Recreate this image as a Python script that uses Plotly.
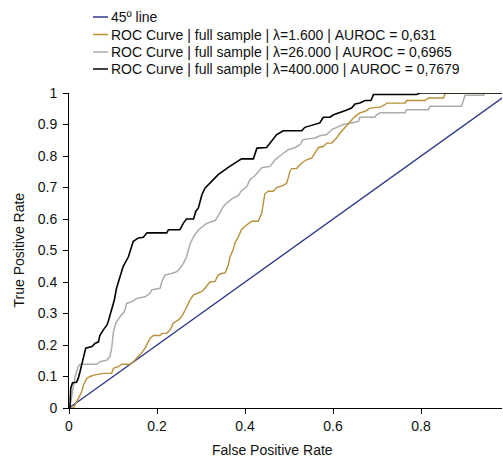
import plotly.graph_objects as go

# ROC curve points (false positive rate, true positive rate)
fpr_lam400 = [0, 0.002, 0.004, 0.008, 0.017, 0.021, 0.025, 0.033, 0.038, 0.052,
              0.059, 0.067, 0.070, 0.078, 0.086, 0.089, 0.097, 0.103, 0.108, 0.116,
              0.123, 0.135, 0.142, 0.146, 0.158, 0.169, 0.177, 0.222, 0.226, 0.252,
              0.260, 0.267, 0.283, 0.288, 0.294, 0.302, 0.309, 0.324, 0.339, 0.362,
              0.385, 0.392, 0.419, 0.427, 0.449, 0.464, 0.472, 0.487, 0.529, 0.536,
              0.552, 0.570, 0.578, 0.593, 0.601, 0.616, 0.627, 0.642, 0.650, 0.661,
              0.673, 0.686, 0.692, 0.790, 0.798, 1.0]
tpr_lam400 = [0, 0, 0.063, 0.080, 0.082, 0.094, 0.115, 0.168, 0.190, 0.195,
              0.205, 0.210, 0.230, 0.248, 0.263, 0.274, 0.311, 0.343, 0.380, 0.417,
              0.449, 0.480, 0.507, 0.529, 0.540, 0.542, 0.556, 0.556, 0.566, 0.566,
              0.587, 0.600, 0.600, 0.624, 0.635, 0.677, 0.698, 0.720, 0.741, 0.764,
              0.783, 0.791, 0.791, 0.825, 0.827, 0.852, 0.868, 0.880, 0.880, 0.891,
              0.897, 0.905, 0.923, 0.923, 0.931, 0.940, 0.944, 0.952, 0.965, 0.968,
              0.976, 0.976, 0.995, 0.995, 1.0, 1.0]

fpr_lam26 = [0, 0.002, 0.008, 0.014, 0.021, 0.025, 0.063, 0.070, 0.086, 0.093,
             0.097, 0.101, 0.106, 0.116, 0.126, 0.131, 0.142, 0.154, 0.173, 0.184,
             0.188, 0.207, 0.211, 0.218, 0.233, 0.245, 0.252, 0.260, 0.267, 0.275,
             0.283, 0.294, 0.313, 0.332, 0.339, 0.351, 0.358, 0.370, 0.385, 0.392,
             0.404, 0.411, 0.423, 0.438, 0.457, 0.468, 0.483, 0.498, 0.514, 0.525,
             0.532, 0.559, 0.570, 0.586, 0.597, 0.612, 0.623, 0.639, 0.658, 0.661,
             0.695, 0.699, 0.707, 0.764, 0.767, 0.817, 0.820, 0.892, 0.896, 0.900,
             0.942, 0.944, 1.0]
tpr_lam26 = [0, 0, 0.052, 0.100, 0.131, 0.139, 0.139, 0.147, 0.152, 0.163,
             0.190, 0.242, 0.269, 0.290, 0.306, 0.332, 0.337, 0.348, 0.353, 0.364,
             0.375, 0.380, 0.401, 0.422, 0.427, 0.433, 0.443, 0.459, 0.480, 0.520,
             0.544, 0.565, 0.586, 0.595, 0.610, 0.640, 0.650, 0.664, 0.675, 0.690,
             0.703, 0.725, 0.738, 0.763, 0.767, 0.788, 0.804, 0.820, 0.827, 0.836,
             0.852, 0.857, 0.864, 0.868, 0.884, 0.894, 0.900, 0.904, 0.910, 0.923,
             0.923, 0.931, 0.937, 0.937, 0.947, 0.947, 0.958, 0.958, 0.979, 0.993,
             0.993, 1.0, 1.0]

fpr_lam1_6 = [0, 0.010, 0.014, 0.021, 0.029, 0.033, 0.040, 0.048, 0.059, 0.078,
              0.097, 0.101, 0.112, 0.120, 0.139, 0.146, 0.161, 0.173, 0.184, 0.192,
              0.207, 0.211, 0.222, 0.230, 0.237, 0.248, 0.256, 0.264, 0.275, 0.283,
              0.294, 0.302, 0.309, 0.320, 0.332, 0.339, 0.347, 0.355, 0.362, 0.366,
              0.373, 0.377, 0.385, 0.392, 0.400, 0.415, 0.430, 0.438, 0.445, 0.453,
              0.464, 0.472, 0.487, 0.495, 0.502, 0.506, 0.517, 0.529, 0.540, 0.552,
              0.559, 0.567, 0.578, 0.586, 0.597, 0.608, 0.616, 0.627, 0.639, 0.650,
              0.661, 0.673, 0.684, 0.707, 0.718, 0.722, 0.764, 0.767, 0.809, 0.817,
              0.851, 0.853, 0.855, 1.0]
tpr_lam1_6 = [0, 0, 0.010, 0.031, 0.052, 0.073, 0.094, 0.100, 0.105, 0.110,
              0.110, 0.126, 0.131, 0.139, 0.139, 0.147, 0.168, 0.190, 0.221, 0.230,
              0.230, 0.237, 0.237, 0.248, 0.269, 0.279, 0.290, 0.311, 0.343, 0.359,
              0.364, 0.370, 0.380, 0.400, 0.402, 0.422, 0.427, 0.429, 0.454, 0.480,
              0.502, 0.523, 0.544, 0.567, 0.577, 0.593, 0.593, 0.618, 0.680, 0.688,
              0.688, 0.700, 0.707, 0.714, 0.751, 0.760, 0.760, 0.778, 0.788, 0.794,
              0.810, 0.827, 0.830, 0.841, 0.841, 0.857, 0.873, 0.890, 0.910, 0.926,
              0.937, 0.942, 0.952, 0.955, 0.963, 0.968, 0.968, 0.976, 0.976, 0.984,
              0.984, 0.997, 1.0, 1.0]

diag_x = [0, 1]
diag_y = [0, 1]

series_names = [
    "45º line",
    "ROC Curve | full sample | λ=1.600 | AUROC = 0,631",
    "ROC Curve | full sample | λ=26.000 | AUROC = 0,6965",
    "ROC Curve | full sample | λ=400.000 | AUROC = 0,7679",
]
series_colors = ["#2E3A87", "#B8903A", "#ABABAB", "#000000"]

x_ticks = [0, 0.2, 0.4, 0.6, 0.8]
x_ticklabels = ["0", "0.2", "0.4", "0.6", "0.8"]
y_ticks = [0, 0.1, 0.2, 0.3, 0.4, 0.5, 0.6, 0.7, 0.8, 0.9, 1.0]
y_ticklabels = ["0", "0.1", "0.2", "0.3", "0.4", "0.5", "0.6", "0.7", "0.8", "0.9", "1"]

FONT = "Liberation Sans, Arial, sans-serif"
FSIZE = 14
TXT = "#111"

fig = go.Figure()
# drawing order: diagonal, λ=26, λ=1.6, λ=400 on top
traces = [
    (diag_x, diag_y, 0, 1.4),
    (fpr_lam26, tpr_lam26, 2, 1.5),
    (fpr_lam1_6, tpr_lam1_6, 1, 1.4),
    (fpr_lam400, tpr_lam400, 3, 1.6),
]
for xs, ys, idx, w in traces:
    fig.add_trace(go.Scatter(
        x=xs, y=ys, mode="lines", name=series_names[idx], showlegend=False,
        line=dict(color=series_colors[idx], width=w),
    ))

# compact legend: short line swatch followed by the series name
L, T, PW, PH = 69, 93, 433, 315
legend_rows_px = [17, 34.5, 52, 69]
for name, color, ypx in zip(series_names, series_colors, legend_rows_px):
    yp = (408 - ypx) / PH
    fig.add_shape(type="line", xref="paper", yref="paper",
                  x0=(93 - L) / PW, x1=(108 - L) / PW, y0=yp, y1=yp,
                  line=dict(color=color, width=1.5))
    fig.add_annotation(text=name, xref="paper", yref="paper",
                       x=(109 - L) / PW, y=yp, xanchor="left", yanchor="middle",
                       showarrow=False, font=dict(family=FONT, size=FSIZE, color=TXT))

# axis titles
fig.add_annotation(text="False Positive Rate", xref="paper", yref="paper",
                   x=(272 - L) / PW, y=-(450 - 408) / PH, xanchor="center",
                   yanchor="middle", showarrow=False,
                   font=dict(family=FONT, size=FSIZE, color=TXT))
fig.add_annotation(text="True Positive Rate", xref="paper", yref="paper",
                   x=(18 - L) / PW, y=0.5, xanchor="center", yanchor="middle",
                   textangle=-90, showarrow=False,
                   font=dict(family=FONT, size=FSIZE, color=TXT))

axis_common = dict(
    showgrid=False, zeroline=False, showline=True, linecolor="#000", linewidth=1,
    ticks="outside", ticklen=5, tickcolor="#000", tickwidth=1,
    tickfont=dict(family=FONT, size=FSIZE, color=TXT),
)
fig.update_xaxes(range=[0, 0.984], tickmode="array", tickvals=x_ticks,
                 ticktext=x_ticklabels, **axis_common)
fig.update_yaxes(range=[0, 1.0], tickmode="array", tickvals=y_ticks,
                 ticktext=y_ticklabels, ticklabelstandoff=3, **axis_common)

fig.update_layout(
    width=503, height=459,
    margin=dict(l=L, r=503 - L - PW, t=T, b=459 - T - PH),
    paper_bgcolor="white", plot_bgcolor="white",
    font=dict(family=FONT, size=FSIZE, color=TXT),
)

fig.write_html("out.html")
